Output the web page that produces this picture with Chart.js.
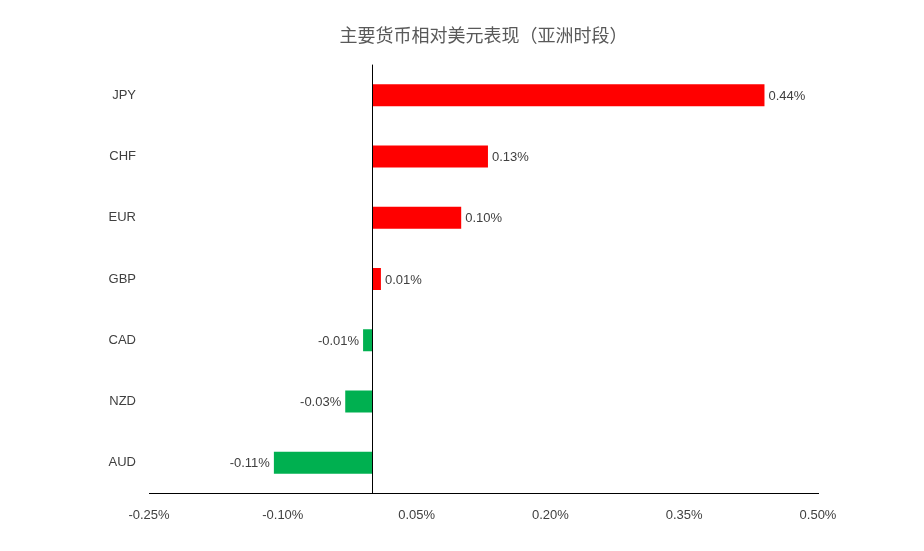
<!DOCTYPE html>
<html><head><meta charset="utf-8">
<script src="https://cdn.jsdelivr.net/npm/chart.js@4"></script>
<style>body{margin:0;background:#fff}#w{width:924px;height:551px}</style>
</head><body><div id="w"><canvas id="c"></canvas></div>
<script>
const categories = ['JPY','CHF','EUR','GBP','CAD','NZD','AUD'];
const values = [0.44, 0.13, 0.10, 0.01, -0.01, -0.03, -0.11];
const xTicks = [-0.25, -0.10, 0.05, 0.20, 0.35, 0.50];
const fmt = v => v.toFixed(2) + '%';

const extras = {
  id:'extras',
  afterDatasetsDraw(chart){
    const ctx = chart.ctx, x = chart.scales.x;
    const x0 = x.getPixelForValue(0);
    ctx.save();
    ctx.strokeStyle = '#000'; ctx.lineWidth = 1;
    ctx.beginPath(); ctx.moveTo(Math.round(x0)+0.5, chart.chartArea.top); ctx.lineTo(Math.round(x0)+0.5, chart.chartArea.bottom); ctx.stroke();
    ctx.font = '13px "Liberation Sans", Arial, sans-serif';
    ctx.fillStyle = '#404040'; ctx.textBaseline = 'middle';
    chart.getDatasetMeta(0).data.forEach((bar, i) => {
      const v = values[i];
      if (v >= 0) { ctx.textAlign = 'left'; ctx.fillText(fmt(v), bar.x + 4, bar.y + 1); }
      else { ctx.textAlign = 'right'; ctx.fillText(fmt(v), bar.x - 4, bar.y + 1); }
    });
    ctx.restore();
  }
};

new Chart(document.getElementById('c'), {
  type: 'bar',
  data: { labels: categories, datasets: [{ data: values,
    backgroundColor: values.map(v => v >= 0 ? '#FF0000' : '#00B050'),
    barPercentage: 0.36, categoryPercentage: 1 }] },
  options: {
    indexAxis: 'y', responsive: true, maintainAspectRatio: false, animation: false,
    layout: { padding: { left: 0, right: 106, top: 14, bottom: 14 } },
    plugins: {
      legend: { display: false }, tooltip: { enabled: false },
      title: { display: true, text: '主要货币相对美元表现（亚洲时段）', fullSize: false,
        color: '#595959', font: { size: 18, family: '"Noto Sans CJK SC", sans-serif', weight: 'normal' },
        padding: { top: 10, bottom: 19 } }
    },
    scales: {
      x: { min: -0.25, max: 0.5,
        afterBuildTicks: s => { s.ticks = xTicks.map(v => ({ value: v })); },
        grid: { display: false, drawTicks: false },
        border: { display: true, color: '#000' },
        ticks: { callback: v => fmt(v), color: '#404040', padding: 14,
          font: { size: 13, family: '"Liberation Sans", Arial, sans-serif' } } },
      y: { grid: { display: false, drawTicks: false }, border: { display: false },
        afterFit: s => { s.width = 149; },
        ticks: { color: '#404040', padding: 13, font: { size: 13, family: '"Liberation Sans", Arial, sans-serif' } } }
    }
  },
  plugins: [extras]
});
</script></body></html>
